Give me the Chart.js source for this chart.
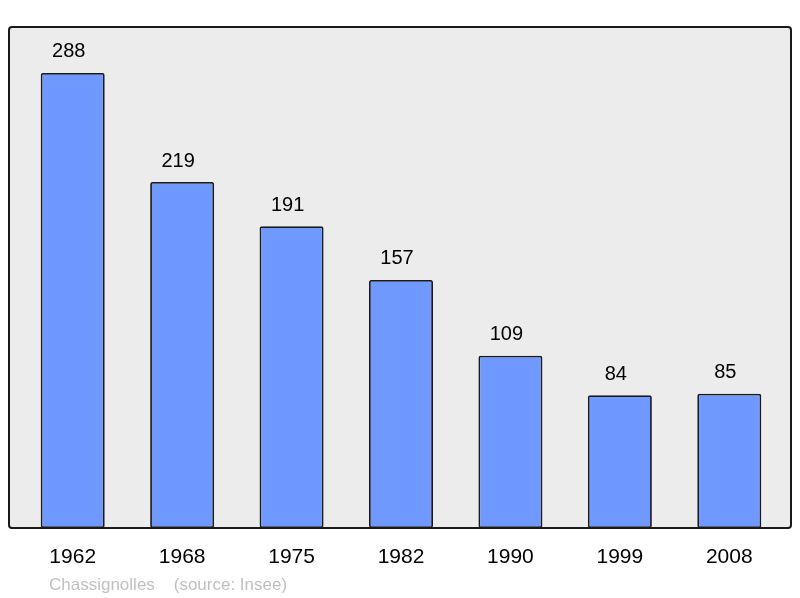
<!DOCTYPE html>
<html>
<head>
<meta charset="utf-8">
<script src="https://cdn.jsdelivr.net/npm/chart.js@4"></script>
<style>
  html, body { margin: 0; padding: 0; background: #fff; }
  #wrap { width: 800px; height: 598px; position: relative; }
</style>
</head>
<body>
<div id="wrap"><canvas id="pop"></canvas></div>
<script>
var years = ["1962", "1968", "1975", "1982", "1990", "1999", "2008"];
var population = [288, 219, 191, 157, 109, 84, 85];
var footerText = "Chassignolles    (source: Insee)";

// grey box behind the bars, a bit wider than the category area
var plotBox = {
  id: "plotBox",
  beforeDatasetsDraw(chart) {
    var a = chart.chartArea, c = chart.ctx;
    var x = a.left - 9, y = a.top, w = a.right - a.left + 16, h = a.bottom - a.top;
    c.save();
    c.beginPath();
    c.roundRect(x, y, w, h, 3);
    c.fillStyle = "#ececec";
    c.fill();
    c.restore();
  },
  afterDatasetsDraw(chart) {
    var a = chart.chartArea, c = chart.ctx;
    var x = a.left - 9, y = a.top, w = a.right - a.left + 16, h = a.bottom - a.top;
    c.save();
    c.beginPath();
    c.roundRect(x, y, w, h, 3);
    c.lineWidth = 2;
    c.strokeStyle = "#1a1a1a";
    c.stroke();
    c.restore();
  }
};

var valueLabels = {
  id: "valueLabels",
  afterDraw(chart) {
    var c = chart.ctx;
    var meta = chart.getDatasetMeta(0);
    c.save();
    c.font = "20px 'Liberation Sans', Arial, sans-serif";
    c.fillStyle = "#000";
    c.textAlign = "center";
    c.textBaseline = "middle";
    meta.data.forEach(function (bar, i) {
      c.fillText(population[i], bar.x - 4, bar.y - 21);
    });
    c.fillStyle = "#c0c0c0";
    c.font = "17px 'Liberation Sans', Arial, sans-serif";
    c.textAlign = "left";
    c.fillText(footerText, 49, 585);
    c.restore();
  }
};

new Chart(document.getElementById("pop"), {
  type: "bar",
  data: {
    labels: years,
    datasets: [{
      data: population,
      backgroundColor: "#7099ff",
      borderColor: "#1a1a1a",
      borderWidth: 1.8,
      borderRadius: 2,
      borderSkipped: false,
      barPercentage: 0.585,
      categoryPercentage: 1
    }]
  },
  options: {
    responsive: true,
    maintainAspectRatio: false,
    animation: false,
    layout: { padding: { top: 27, left: 18, right: 16, bottom: 0 } },
    plugins: { legend: { display: false }, tooltip: { enabled: false } },
    scales: {
      x: {
        grid: { display: false },
        border: { display: false },
        ticks: {
          color: "#000",
          font: { size: 21, family: "'Liberation Sans', Arial, sans-serif" },
          padding: 9,
          maxRotation: 0
        },
        afterFit(scale) { scale.height = 70; }
      },
      y: {
        display: false,
        min: 0,
        max: 317.1
      }
    }
  },
  plugins: [plotBox, valueLabels]
});
</script>
</body>
</html>
